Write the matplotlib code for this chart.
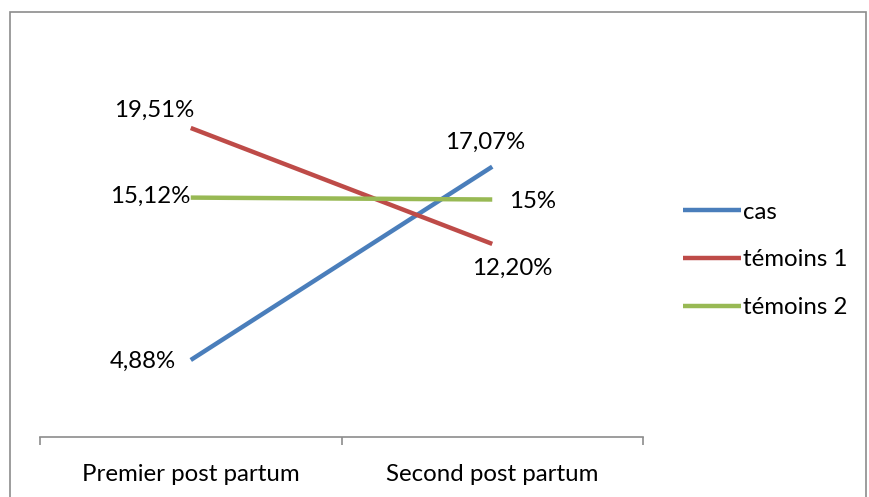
import matplotlib.pyplot as plt
from matplotlib.patches import Rectangle

categories = ["Premier post partum", "Second post partum"]
series_names = ["cas", "témoins 1", "témoins 2"]
cas = [4.88, 17.07]
temoins1 = [19.51, 12.20]
temoins2 = [15.12, 15.0]
label_cas = ["4,88%", "17,07%"]
label_t1 = ["19,51%", "12,20%"]
label_t2 = ["15,12%", "15%"]

colors = ["#4A7EBB", "#BE4B48", "#98B954"]
plt.rcParams['font.family'] = ['Lato', 'DejaVu Sans']
FS = 17.3

fig = plt.figure(figsize=(8.69, 4.97), dpi=100)
W, H = 869, 497
fig.patches.append(Rectangle((10 / W, -0.1), 856 / W, (H - 12) / H + 0.1,
                             transform=fig.transFigure, fill=False,
                             edgecolor="#8c8c8c", linewidth=1.2))

ax = fig.add_axes([40 / W, (H - 437.4) / H, 603 / W, (437.4 - 40.9) / H])
x = [0, 1]
lines = []
for vals, c, name in zip([cas, temoins1, temoins2], colors, series_names):
    l, = ax.plot(x, vals, color=c, linewidth=3.2, solid_capstyle='butt', label=name)
    lines.append(l)

ax.set_xlim(-0.5, 1.5)
ax.set_ylim(0, 25)
for s in ["top", "right", "left"]:
    ax.spines[s].set_visible(False)
ax.spines["bottom"].set_color("#8c8c8c")
ax.spines["bottom"].set_linewidth(1.2)
ax.set_yticks([])
ax.set_xticks([-0.5, 0.5, 1.5])
ax.set_xticklabels([])
ax.tick_params(axis='x', which='major', direction='out', length=6, color="#8c8c8c", width=1.2)
ax.set_xticks(x, minor=True)
ax.set_xticklabels(categories, minor=True, fontsize=FS)
ax.tick_params(axis='x', which='minor', length=0, pad=19)

def lab(xv, yv, text, dx, dy):
    ax.annotate(text, (xv, yv), xytext=(dx, dy), textcoords='offset pixels',
                ha='center', va='center', fontsize=FS)

lab(0, temoins1[0], label_t1[0], -37, 18)
lab(0, temoins2[0], label_t2[0], -41, 1)
lab(0, cas[0], label_cas[0], -48, -1)
lab(1, cas[1], label_cas[1], -7, 24)
lab(1, temoins2[1], label_t2[1], 40, -2)
lab(1, temoins1[1], label_t1[1], 20, -24)

fig.legend(handles=lines, loc='center left', bbox_to_anchor=(671 / W, (H - 260) / H),
           frameon=False, fontsize=FS, handlelength=2.4, handletextpad=0.1,
           labelspacing=1.12, borderpad=0)

fig.savefig("out.png", dpi=100)
